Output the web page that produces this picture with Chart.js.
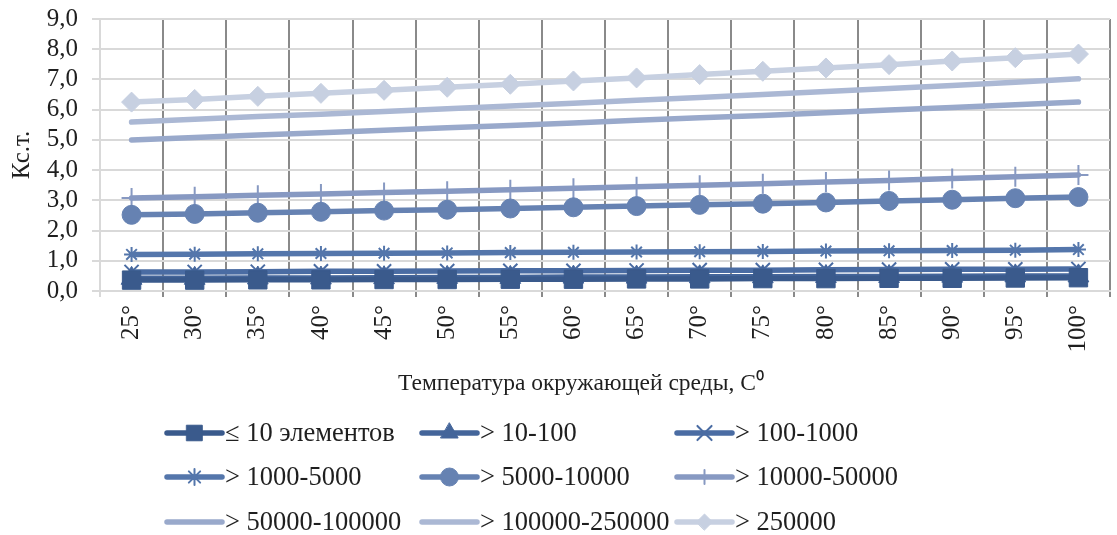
<!DOCTYPE html>
<html>
<head>
<meta charset="utf-8">
<script src="https://cdn.jsdelivr.net/npm/chart.js@4/dist/chart.umd.min.js"></script>
<style>
  html, body { margin: 0; padding: 0; background: #fff; overflow: hidden; }
  #wrap { width: 1124px; height: 535px; position: relative; }
</style>
</head>
<body>
<div id="wrap"><canvas id="c"></canvas></div>
<script>
// Temperature categories (x axis)
const temperatures = ['25°','30°','35°','40°','45°','50°','55°','60°','65°','70°','75°','80°','85°','90°','95°','100°'];

// Coefficient values per element-count group
const le10      = [0.36,0.36,0.37,0.37,0.38,0.38,0.39,0.39,0.40,0.40,0.41,0.41,0.42,0.42,0.43,0.44];
const gt10      = [0.42,0.42,0.43,0.43,0.44,0.45,0.45,0.46,0.46,0.47,0.47,0.48,0.48,0.49,0.50,0.50];
const gt100     = [0.63,0.63,0.64,0.65,0.65,0.66,0.67,0.67,0.68,0.69,0.69,0.70,0.71,0.72,0.72,0.73];
const gt1000    = [1.21,1.22,1.23,1.24,1.25,1.26,1.27,1.28,1.29,1.30,1.31,1.32,1.33,1.34,1.35,1.37];
const gt5000    = [2.52,2.55,2.59,2.62,2.66,2.69,2.73,2.77,2.81,2.85,2.89,2.93,2.98,3.02,3.07,3.11];
const gt10000   = [3.08,3.12,3.17,3.21,3.26,3.30,3.35,3.40,3.45,3.50,3.55,3.61,3.66,3.72,3.78,3.84];
const gt50000   = [5.00,5.08,5.16,5.24,5.32,5.40,5.48,5.56,5.65,5.73,5.81,5.90,5.99,6.07,6.16,6.25];
const gt100000  = [5.59,5.68,5.77,5.85,5.94,6.03,6.12,6.21,6.31,6.40,6.50,6.60,6.70,6.80,6.91,7.02];
const gt250000  = [6.25,6.34,6.44,6.54,6.64,6.74,6.84,6.95,7.05,7.16,7.27,7.38,7.49,7.61,7.72,7.84];

const seriesNames = ['≤ 10 элементов','> 10-100','> 100-1000','> 1000-5000','> 5000-10000',
                     '> 10000-50000','> 50000-100000','> 100000-250000','> 250000'];
const yTicks = [0,1,2,3,4,5,6,7,8,9];
const xTitle = 'Температура окружающей среды, С⁰';
const yTitle = 'Кс.т.';

const FONT = "'Liberation Serif', 'Times New Roman', serif";
const TEXT = '#1f1f1f';

function series(label, data, color, style, radius, legendRadius, markerWidth) {
  return {
    label, data,
    borderColor: color, backgroundColor: color,
    borderWidth: 5.5, borderCapStyle: 'round', borderJoinStyle: 'round',
    tension: 0,
    pointStyle: style || 'circle',
    pointRadius: style ? radius : 0,
    pointHoverRadius: style ? radius : 0,
    pointBackgroundColor: color, pointBorderColor: color,
    pointBorderWidth: markerWidth,
    legendRadius: style ? legendRadius : 0
  };
}

const datasets = [
  series(seriesNames[0], le10,     '#3a5a8c', 'rect',     13, 11, 1),
  series(seriesNames[1], gt10,     '#44659a', 'triangle', 12, 10, 1),
  series(seriesNames[2], gt100,    '#4a6ca3', 'crossRot', 10, 10, 2),
  series(seriesNames[3], gt1000,   '#5476ab', 'star',     7.5, 8, 2),
  series(seriesNames[4], gt5000,   '#6682b2', 'circle',   9.5, 9, 1),
  series(seriesNames[5], gt10000,  '#8799c2', 'cross',    10, 7, 2),
  series(seriesNames[6], gt50000,  '#99a9cb', null,       0, 0, 0),
  series(seriesNames[7], gt100000, '#abb8d4', null,       0, 0, 0),
  series(seriesNames[8], gt250000, '#c7d0e1', 'rectRot',  10, 8, 1)
];

// Axis title below the tick labels plus a three-column legend
const bottomBlock = {
  id: 'bottomBlock',
  afterDraw(chart, args, opts) {
    const ctx = chart.ctx;
    ctx.save();
    ctx.fillStyle = TEXT;
    ctx.font = opts.titleFont;
    ctx.textAlign = 'center';
    ctx.textBaseline = 'middle';
    ctx.fillText(xTitle, opts.titleX, opts.titleY);
    ctx.restore();

    chart.data.datasets.forEach((ds, i) => {
      const x0 = opts.cols[i % 3];
      const y = opts.rows[Math.floor(i / 3)];
      ctx.save();
      ctx.strokeStyle = ds.borderColor;
      ctx.lineWidth = ds.borderWidth;
      ctx.lineCap = 'round';
      ctx.beginPath();
      ctx.moveTo(x0, y);
      ctx.lineTo(x0 + opts.lineLen, y);
      ctx.stroke();
      if (ds.legendRadius > 0) {
        ctx.fillStyle = ds.pointBackgroundColor;
        ctx.strokeStyle = ds.pointBorderColor;
        ctx.lineWidth = ds.pointBorderWidth;
        Chart.helpers.drawPoint(ctx, {
          pointStyle: ds.pointStyle, radius: ds.legendRadius,
          rotation: 0, borderWidth: ds.pointBorderWidth
        }, x0 + opts.lineLen / 2, y);
      }
      ctx.fillStyle = TEXT;
      ctx.font = opts.font;
      ctx.textAlign = 'left';
      ctx.textBaseline = 'middle';
      ctx.fillText(ds.label, x0 + opts.lineLen + 3, y + 1);
      ctx.restore();
    });
  }
};

new Chart(document.getElementById('c'), {
  type: 'line',
  data: { labels: temperatures, datasets },
  options: {
    responsive: true,
    maintainAspectRatio: false,
    animation: false,
    layout: { padding: { top: 19, right: 2, bottom: 134, left: 0 } },
    plugins: {
      legend: { display: false },
      tooltip: { enabled: false },
      bottomBlock: {
        titleX: 581, titleY: 384,
        titleFont: "23.5px " + FONT,
        cols: [167, 422, 677],
        rows: [433, 477, 522],
        lineLen: 55,
        font: "26.5px " + FONT
      }
    },
    scales: {
      x: {
        offset: true,
        grid: {
          offset: true,
          color: ctx => ctx.index === 0 ? '#d9d9d9' : '#8a8a8a',
          lineWidth: 2,
          tickLength: 6,
          drawTicks: true
        },
        border: { color: '#d9d9d9', width: 2 },
        ticks: {
          autoSkip: false, minRotation: 90, maxRotation: 90,
          color: TEXT, padding: 8,
          font: { family: FONT, size: 25 }
        },
        afterFit: s => { s.height = 110; }
      },
      y: {
        min: 0, max: 9,
        afterBuildTicks: s => { s.ticks = yTicks.map(v => ({ value: v })); },
        grid: { color: '#d9d9d9', lineWidth: 2, tickLength: 8 },
        border: { color: '#d9d9d9', width: 2 },
        ticks: {
          autoSkip: false,
          color: TEXT, padding: 14,
          font: { family: FONT, size: 25 },
          callback: v => v.toFixed(1).replace('.', ',')
        },
        title: {
          display: true,
          text: yTitle,
          color: TEXT,
          font: { family: FONT, size: 25 },
          padding: { top: 7, bottom: 0 }
        },
        afterFit: s => { s.width = 100; s.paddingTop = 0; s.paddingBottom = 0; }
      }
    }
  },
  plugins: [bottomBlock]
});
</script>
</body>
</html>
